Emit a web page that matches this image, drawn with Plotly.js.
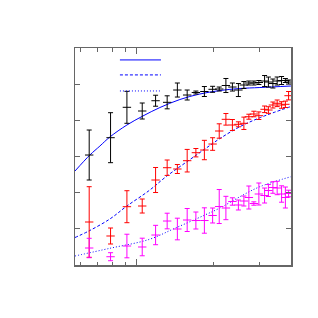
<!DOCTYPE html>
<html><head><meta charset="utf-8">
<script src="https://cdn.plot.ly/plotly-3.0.1.min.js"></script>
<style>html,body{margin:0;padding:0;background:#fff}#chart{width:318px;height:318px}</style>
</head><body><div id="chart"></div>
<script>
// x positions (log axis)
const xPts = [0.651,0.789,0.914,1.049,1.183,1.313,1.439,1.572,1.700,1.835,1.976,2.097,2.227,2.361,2.492,2.618,2.738,2.864,2.996,3.154,3.264,3.399,3.532,3.675,3.803,3.914];
// black series
const blackY = [3.041,3.520,4.360,4.258,4.542,4.498,4.838,4.700,4.769,4.797,4.858,4.866,4.963,4.921,4.838,4.977,5.032,5.032,5.046,5.087,5.059,5.018,5.087,5.101,5.101,5.059];
const blackErr = [0.691,0.691,0.442,0.221,0.152,0.180,0.194,0.138,0.041,0.138,0.083,0.055,0.194,0.111,0.180,0.097,0.055,0.055,0.055,0.152,0.138,0.124,0.111,0.111,0.055,0.055];
// red series
const redY = [1.189,0.802,1.612,1.631,2.350,2.690,2.654,2.884,3.105,3.179,3.345,3.705,4.028,3.871,3.890,3.918,4.100,4.175,4.128,4.305,4.285,4.424,4.471,4.424,4.443,4.681];
const redErr = [0.976,0.221,0.442,0.194,0.346,0.213,0.124,0.312,0.116,0.268,0.174,0.199,0.160,0.152,0.069,0.171,0.069,0.077,0.105,0.091,0.091,0.083,0.091,0.091,0.088,0.116];
// magenta series
const magY = [0.470,0.229,0.525,0.498,0.829,1.216,0.995,1.244,1.230,1.230,1.369,1.617,1.576,1.756,1.659,1.769,1.866,1.700,1.963,1.921,2.060,2.143,2.129,1.963,1.866,1.977];
const magErr = [0.268,0.111,0.326,0.243,0.268,0.216,0.299,0.318,0.235,0.351,0.207,0.470,0.323,0.102,0.138,0.138,0.318,0.047,0.304,0.207,0.166,0.160,0.185,0.227,0.290,0.091];
// curves
const solidX = [0.573,0.655,0.717,0.784,0.914,1.055,1.230,1.472,1.762,2.110,2.526,3.023,3.997];
const solidY = [2.599,3.041,3.290,3.539,3.871,4.119,4.354,4.576,4.728,4.824,4.880,4.907,4.949];
const dashX = [0.573,0.649,0.784,0.914,1.114,1.310,1.568,1.843,2.110,2.526,3.023,3.997];
const dashY = [0.760,0.940,1.272,1.631,2.054,2.461,2.856,3.207,3.497,3.824,4.072,4.382];
const dotX = [0.573,0.784,1.114,1.407,1.843,2.110,2.526,3.023,3.997];
const dotY = [0.249,0.462,0.705,1.015,1.382,1.576,1.888,2.165,2.441];

function pts(y, err, color){
  return {x:xPts, y:y, type:'scatter', mode:'markers', showlegend:false,
    marker:{symbol:'line-ew-open', size:6, color:color, line:{color:color, width:1}},
    error_y:{type:'data', array:err, visible:true, color:color, thickness:1, width:2.5}};
}
const blue = '#0000ff';
const data = [
  {x:solidX, y:solidY, type:'scatter', mode:'lines', showlegend:false, line:{color:blue, width:1, shape:'spline'}},
  {x:dashX, y:dashY, type:'scatter', mode:'lines', showlegend:false, line:{color:blue, width:1, dash:'3px,2px', shape:'spline'}},
  {x:dotX, y:dotY, type:'scatter', mode:'lines', showlegend:false, line:{color:blue, width:1, dash:'1px,2px', shape:'spline'}},
  pts(blackY, blackErr, '#000000'),
  pts(redY, redErr, '#ff0000'),
  pts(magY, magErr, '#ff00ff')
];
const legendKeys = [{y:0.945, dash:'solid'},{y:0.876, dash:'3px,2px'},{y:0.802, dash:'1px,2px'}];
const layout = {
  width:318, height:318,
  margin:{l:75, r:27, t:48, b:53},
  paper_bgcolor:'#fff', plot_bgcolor:'#fff',
  showlegend:false,
  xaxis:{type:'log', range:[Math.log10(0.573), Math.log10(4.0)], showgrid:false, zeroline:false,
    showline:true, linecolor:'#666', linewidth:1.5, mirror:'ticks',
    tickmode:'array', tickvals:[1], ticks:'inside', ticklen:6, tickcolor:'#666', showticklabels:false,
    minor:{tickmode:'array', tickvals:[0.6,0.7,0.8,0.9,2,3], ticks:'inside', ticklen:3.5, tickcolor:'#666', showgrid:false}},
  yaxis:{range:[0,6], showgrid:false, zeroline:false, showline:true, linecolor:'#666', linewidth:1.5, mirror:'ticks',
    tickmode:'linear', tick0:0, dtick:1, ticks:'inside', ticklen:5, tickcolor:'#666', showticklabels:false},
  shapes: legendKeys.map(k => ({type:'line', xref:'paper', yref:'paper', x0:0.208, x1:0.398, y0:k.y, y1:k.y,
    line:{color:blue, width:1, dash:k.dash}}))
};
Plotly.newPlot('chart', data, layout, {staticPlot:true, displayModeBar:false});
</script></body></html>
